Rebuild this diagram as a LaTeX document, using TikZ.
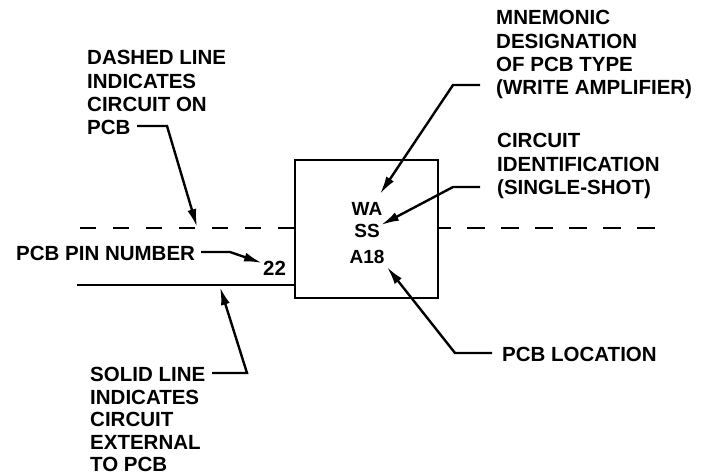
\documentclass[tikz,border=0pt]{standalone}
\usepackage{fontspec}
\setmainfont{Liberation Sans}
\usetikzlibrary{arrows.meta}
\tikzset{>={Latex[length=18pt,width=9pt]}}
\tikzstyle{note}=[font=\fontsize{20.5}{23.2}\selectfont\bfseries,align=left,anchor=north west,inner sep=0]
\tikzstyle{code}=[font=\fontsize{19}{21}\selectfont\bfseries,anchor=base,inner sep=0]
\tikzstyle{wire}=[line width=2.4pt]
\tikzstyle{leader}=[->,line width=2.4pt,line join=miter]

\begin{document}
\begin{tikzpicture}[x=1pt,y=-1pt]
  \useasboundingbox (0,0) rectangle (711,475);
  \def\ydash{228}
  \def\ysolid{285}
  % board and its lines
  \node[draw,line width=2.4pt,minimum width=143pt,minimum height=138pt,inner sep=0] (pcb) at (366.5,229) {};
  \coordinate (dashL) at (76,\ydash);
  \coordinate (dashR) at (657,\ydash);
  \coordinate (solidL) at (77,\ysolid);
  \draw[wire,dash pattern=on 16pt off 17pt] (pcb.west |- dashL) -- (dashL);
  \draw[wire,dash pattern=on 18pt off 16pt,dash phase=6pt] (pcb.east |- dashR) -- (dashR);
  \draw[wire] (solidL) -- (solidL -| pcb.west);
  % texts in the board
  \node[code] (wa) at (367,215) {WA};
  \node[code] (ss) at (367,237) {SS};
  \node[code] (loc) at (367,263) {A18};
  \node[note,anchor=base west] (pin) at (263,275) {22};
  % notes
  \node[note] (dashnote) at (87,50.3) {DASHED LINE\\INDICATES\\CIRCUIT ON\\PCB};
  \node[note] (mnemnote) at (496,10.3) {MNEMONIC\\DESIGNATION\\OF PCB TYPE\\(WRITE AMPLIFIER)};
  \node[note] (idnote) at (497,133.3) {CIRCUIT\\IDENTIFICATION\\(SINGLE-SHOT)};
  \node[note] (pinnote) at (16,246.3) {PCB PIN NUMBER};
  \node[note] (locnote) at (502,347.3) {PCB LOCATION};
  \node[note,font=\fontsize{20.5}{22.4}\selectfont\bfseries] (solidnote) at (90,367.3) {SOLID LINE\\INDICATES\\CIRCUIT\\EXTERNAL\\TO PCB};
  % leaders
  \coordinate (dashA) at (137,126);
  \coordinate (dashB) at (167,126);
  \coordinate (dashT) at (197,227);
  \coordinate (mnemA) at (480,85);
  \coordinate (mnemB) at (453,85);
  \coordinate (mnemT) at (380,194);
  \coordinate (idA) at (480,187);
  \coordinate (idB) at (453,187);
  \coordinate (idT) at (381,225);
  \coordinate (pinA) at (201,252);
  \coordinate (pinB) at (230,252);
  \coordinate (pinT) at (262,263);
  \coordinate (locA) at (492,353);
  \coordinate (locB) at (455,353);
  \coordinate (locT) at (387,267);
  \coordinate (solidA) at (212,373);
  \coordinate (solidB) at (247,373);
  \coordinate (solidT) at (220,287);
  \draw[leader] (dashA) -- (dashB) -- (dashT);
  \draw[leader] (mnemA) -- (mnemB) -- (mnemT);
  \draw[leader] (idA) -- (idB) -- (idT);
  \draw[leader] (pinA) -- (pinB) -- (pinT);
  \draw[leader] (locA) -- (locB) -- (locT);
  \draw[leader] (solidA) -- (solidB) -- (solidT);
\end{tikzpicture}
\end{document}
